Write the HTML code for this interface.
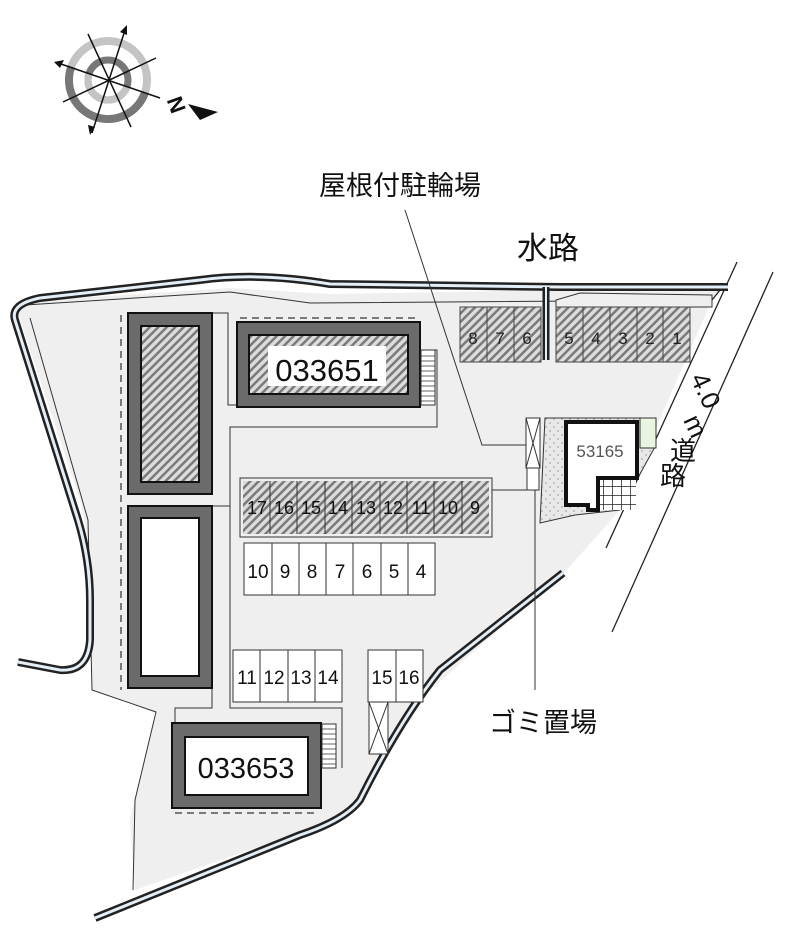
<!DOCTYPE html>
<html><head><meta charset="utf-8"><style>
html,body{margin:0;padding:0;background:#fff;}
svg{display:block;}
text{font-family:"Liberation Sans","Noto Sans CJK JP",sans-serif;}
</style></head><body>
<svg width="800" height="941" viewBox="0 0 800 941" xmlns="http://www.w3.org/2000/svg">
<defs>
<pattern id="h" width="6" height="6" patternUnits="userSpaceOnUse" patternTransform="rotate(45)">
<rect width="6" height="6" fill="#dcdcdc"/><rect width="2.5" height="6" fill="#7a7a7a"/>
</pattern>
<pattern id="g" width="9" height="9" patternUnits="userSpaceOnUse">
<rect width="9" height="9" fill="#fff"/><path d="M0 0H9M0 0V9" stroke="#222" stroke-width="1.5"/>
</pattern>
<pattern id="d" width="8" height="8" patternUnits="userSpaceOnUse">
<rect width="8" height="8" fill="#e8e8e8"/><circle cx="2" cy="3" r="0.8" fill="#999"/><circle cx="6" cy="7" r="0.8" fill="#999"/>
</pattern>
</defs>

<!-- compass -->
<circle cx="108" cy="80" r="39" fill="none" stroke="#c4c4c4" stroke-width="8"/>
<path d="M108 80 m-39 0 a39 39 0 0 0 78 0" fill="none" stroke="#777" stroke-width="8" transform="rotate(20 108 80)"/>
<circle cx="108" cy="80" r="20" fill="none" stroke="#777" stroke-width="7"/>
<path d="M108 80 m-20 0 a20 20 0 0 0 40 0" fill="none" stroke="#c4c4c4" stroke-width="7" transform="rotate(20 108 80)"/>
<g stroke="#111" stroke-width="1.5">
<line x1="58" y1="63" x2="160" y2="98"/><line x1="88" y1="34" x2="131" y2="127"/>
<line x1="126" y1="27" x2="92" y2="133"/><line x1="63" y1="102" x2="156" y2="58"/>
</g>
<path d="M54 62 l10 -2 l-4 8z" fill="#111"/><path d="M90 135 l-2 -10 l7 2z" fill="#111"/><path d="M127 25 l0 10 l-7 -3z" fill="#111"/>
<text x="172" y="108" font-size="22" font-weight="bold" fill="#111" transform="rotate(70 175 100)">N</text>
<path d="M188 104 L218 112 L200 120 Z" fill="#111"/>

<!-- site -->
<path d="M15 302 L230 288 L330 294 L725 287 L712 300 L620 510 L565 572 L430 690 L350 815 L135 890 L130 820 L156 712 L92 690 L92 560 L80 500 L20 320 Z" fill="#efefef"/>
<path d="M25 305 L230 292 L310 303 L712 300" fill="none" stroke="#333" stroke-width="1"/>
<path d="M30 318 L88 520 L92 690 L156 712 L135 800 L133 890" fill="none" stroke="#333" stroke-width="1"/>

<!-- road -->
<line x1="737" y1="262" x2="606" y2="548" stroke="#222" stroke-width="1.3"/>
<line x1="773" y1="272" x2="612" y2="632" stroke="#222" stroke-width="1.3"/>
<path d="M720 290 L712 300" stroke="#222" stroke-width="1.3"/>

<!-- channels -->
<g fill="none" stroke-linecap="butt" stroke-linejoin="round">
<path d="M728 287 L560 287 L330 284 Q260 272 200 280 L40 298 Q10 304 15 320 L78 520 Q90 560 90 600 L90 640 Q88 672 60 670 L18 662" stroke="#222" stroke-width="8"/>
<path d="M728 287 L560 287 L330 284 Q260 272 200 280 L40 298 Q10 304 15 320 L78 520 Q90 560 90 600 L90 640 Q88 672 60 670 L18 662" stroke="#e4eef6" stroke-width="3"/>
<path d="M546 287 L546 360" stroke="#222" stroke-width="7"/>
<path d="M546 287 L546 360" stroke="#e4eef6" stroke-width="2"/>
<path d="M563 573 L440 670 Q400 720 360 800 Q345 820 300 835 L95 918" stroke="#222" stroke-width="8"/>
<path d="M563 573 L440 670 Q400 720 360 800 Q345 820 300 835 L95 918" stroke="#e4eef6" stroke-width="3"/>
</g>

<!-- thin outlines -->
<g fill="none" stroke="#333" stroke-width="1">
<path d="M212 313 L228 313 L228 405 L237 405"/>
<path d="M420 350 L437 350 L437 427 L230 427 L230 478"/>
<path d="M212 506 L230 506 L230 478"/>
<path d="M212 688 L212 708 L175 708 L175 723"/>
<path d="M230 506 L230 708 L342 708 L342 768"/>
<path d="M240 478 L492 478 L492 537 L240 537 Z"/>
<path d="M492 490 L528 490"/>
<path d="M405 210 L482 445 L528 445"/>
<path d="M535 470 L535 690"/>
</g>
<g fill="none" stroke="#555" stroke-width="1.5" stroke-dasharray="7 5">
<path d="M121 315 L121 690"/><path d="M240 318 L418 318"/><path d="M175 813 L318 813"/>
</g>

<!-- buildings -->
<rect x="128" y="313" width="84" height="181" fill="#6b6b6b" stroke="#111" stroke-width="2"/>
<rect x="141" y="326" width="58" height="156" fill="url(#h)" stroke="#111" stroke-width="2"/>
<rect x="128" y="506" width="84" height="182" fill="#6b6b6b" stroke="#111" stroke-width="2"/>
<rect x="141" y="518" width="58" height="158" fill="#fff" stroke="#111" stroke-width="2"/>
<rect x="237" y="322" width="183" height="85" fill="#6b6b6b" stroke="#111" stroke-width="2"/>
<rect x="249" y="335" width="159" height="59" fill="url(#h)" stroke="#111" stroke-width="2"/>
<rect x="268" y="346" width="118" height="40" fill="#fff"/>
<text x="327" y="381" font-size="31" text-anchor="middle" fill="#111">033651</text>
<rect x="421" y="350" width="14" height="55" fill="#fff" stroke="#333"/>
<path d="M421 356H435M421 361H435M421 366H435M421 371H435M421 376H435M421 381H435M421 386H435M421 391H435M421 396H435M421 401H435" stroke="#333" stroke-width="0.8"/>
<rect x="172" y="723" width="149" height="85" fill="#6b6b6b" stroke="#111" stroke-width="2"/>
<rect x="185" y="737" width="123" height="58" fill="#fff" stroke="#111" stroke-width="2"/>
<text x="246" y="778" font-size="29" text-anchor="middle" fill="#111">033653</text>
<rect x="322" y="724" width="14" height="44" fill="#fff" stroke="#333"/>
<path d="M322 729H336M322 734H336M322 739H336M322 744H336M322 749H336M322 754H336M322 759H336M322 764H336" stroke="#333" stroke-width="0.8"/>

<!-- hatched bikes 17-9 -->
<rect x="243" y="481" width="246" height="53" fill="url(#h)"/>
<g stroke="#333" stroke-width="1"><path d="M270 481V534M297 481V534M325 481V534M352 481V534M380 481V534M407 481V534M434 481V534M462 481V534"/></g>
<g font-size="18" fill="#111" text-anchor="middle">
<text x="257" y="514">17</text><text x="284" y="514">16</text><text x="311" y="514">15</text><text x="338" y="514">14</text><text x="366" y="514">13</text><text x="393" y="514">12</text><text x="421" y="514">11</text><text x="448" y="514">10</text><text x="475" y="514">9</text>
</g>
<!-- parking -->
<g fill="#fff" stroke="#333" stroke-width="1">
<rect x="244" y="543" width="191" height="52"/>
<path d="M272 543V595M299 543V595M326 543V595M353 543V595M381 543V595M408 543V595"/>
<rect x="233" y="650" width="109" height="52"/>
<path d="M260 650V702M288 650V702M315 650V702"/>
<rect x="368" y="650" width="55" height="52"/>
<path d="M396 650V702"/>
<rect x="369" y="702" width="19" height="52"/>
<path d="M369 702L388 754M388 702L369 754"/>
</g>
<g font-size="19" fill="#111" text-anchor="middle">
<text x="258" y="578">10</text><text x="285" y="578">9</text><text x="312" y="578">8</text><text x="340" y="578">7</text><text x="367" y="578">6</text><text x="394" y="578">5</text><text x="421" y="578">4</text>
<text x="247" y="684">11</text><text x="274" y="684">12</text><text x="301" y="684">13</text><text x="328" y="684">14</text>
<text x="382" y="684">15</text><text x="409" y="684">16</text>
</g>

<!-- top hatched 8-1 -->
<path d="M556 300 L580 293 L712 295 L712 307 L556 307Z" fill="#efefef" stroke="#333"/>
<rect x="460" y="307" width="81" height="55" fill="url(#h)" stroke="#444"/>
<rect x="556" y="307" width="134" height="55" fill="url(#h)" stroke="#444"/>
<g stroke="#444"><path d="M487 307V362M514 307V362M583 307V362M610 307V362M637 307V362M663 307V362"/></g>
<g font-size="17" fill="#222" text-anchor="middle">
<text x="473" y="344">8</text><text x="500" y="344">7</text><text x="527" y="344">6</text>
<text x="569" y="344">5</text><text x="596" y="344">4</text><text x="623" y="344">3</text><text x="650" y="344">2</text><text x="677" y="344">1</text>
</g>

<!-- 53165 -->
<path d="M545 418 L656 418 L656 445 L620 510 L575 515 L540 523 Z" fill="url(#d)" stroke="#333"/>
<rect x="596" y="480" width="40" height="30" fill="url(#g)"/>
<rect x="640" y="418" width="16" height="30" fill="#e9f5e0" stroke="#333"/>
<path d="M566 422 L637 422 L637 478 L598 478 L598 510 L588 510 L588 505 L566 505 Z" fill="#fff" stroke="#111" stroke-width="4"/>
<text x="600" y="457" font-size="17" fill="#555" text-anchor="middle">53165</text>
<rect x="526" y="418" width="14" height="50" fill="#fff" stroke="#333"/>
<path d="M526 418L540 468M540 418L526 468" stroke="#333"/>
<rect x="527" y="468" width="12" height="22" fill="#fff" stroke="#333"/>

<!-- labels -->
<text x="400" y="195" font-size="27" fill="#111" text-anchor="middle">屋根付駐輪場</text>
<text x="548" y="259" font-size="31" fill="#111" text-anchor="middle">水路</text>
<text x="543" y="732" font-size="27" fill="#111" text-anchor="middle">ゴミ置場</text>
<g font-size="26" fill="#111">
<text x="0" y="0" transform="translate(690,378) rotate(65)">4.0</text>
<text x="0" y="0" transform="translate(683,420) rotate(65)">m</text>
<text x="670" y="460">道</text>
<text x="660" y="485">路</text>
</g>
</svg>
</body></html>
